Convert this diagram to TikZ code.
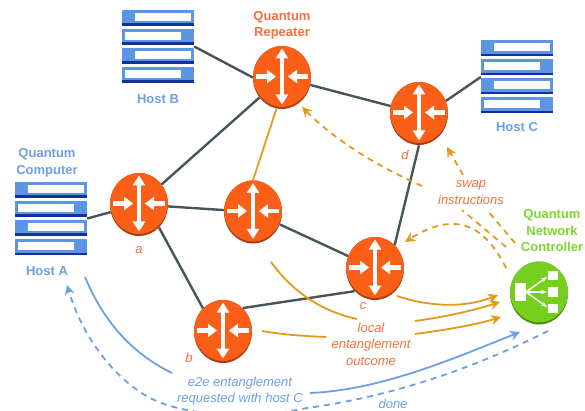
\documentclass[tikz,border=0pt]{standalone}
\usepackage{fontspec}
\setsansfont{Liberation Sans}
\usetikzlibrary{positioning, arrows.meta, shapes.geometric}

\definecolor{routerfill}{HTML}{FB5F17}
\definecolor{routerdark}{HTML}{A83A0E}
\definecolor{ctrlfill}{HTML}{74CF1E}
\definecolor{ctrldark}{HTML}{4A8C12}
\definecolor{hostblue}{HTML}{5B95E3}
\definecolor{hostnavy}{HTML}{12309A}
\definecolor{linkgrey}{HTML}{46555A}
\definecolor{msgorange}{HTML}{E39A1C}
\definecolor{textorange}{HTML}{F4703C}
\definecolor{textblue}{HTML}{6C9FE6}
\definecolor{textgreen}{HTML}{7FD62E}

\newcommand{\hostbar}[2]{%
    \fill[hostblue] (-36,#1) rectangle (36,#1+16);
    \fill[hostnavy] (-36,#1+13.5) rectangle (36,#1+16);
    \fill[white] (#2,#1+3) rectangle (#2+56,#1+11);
}

\tikzset{
    routerbase/.style={ellipse, inner sep=0pt, minimum width=58pt, minimum height=63pt},
    router/.style={routerbase, fill=routerdark, path picture={
        \begin{scope}[shift={(path picture bounding box.center)}]
            \fill[routerfill] (0,-2) ellipse (29 and 31.5);
            \draw[white, line width=3.5pt, {Triangle[width=12pt,length=10pt]}-{Triangle[width=12pt,length=10pt]}] (0,-29) -- (0,27);
            \draw[white, line width=4.5pt, -{Triangle[width=13pt,length=9pt]}] (-26,-1) -- (-6,-1);
            \draw[white, line width=4.5pt, -{Triangle[width=13pt,length=9pt]}] (26,-1) -- (6,-1);
        \end{scope}}},
    controller/.style={routerbase, fill=ctrldark, path picture={
        \begin{scope}[shift={(path picture bounding box.center)}]
            \fill[ctrlfill] (0,-2) ellipse (29 and 31.5);
            \fill[white] (-24,-10) rectangle (-13,8);
            \fill[white] (9,-22) rectangle (19,-13);
            \fill[white] (9,-6) rectangle (19,4);
            \fill[white] (9,11) rectangle (19,20);
            \draw[white, line width=1.5pt, -{Stealth[length=6pt]}] (-13,-1) -- (8,-16);
            \draw[white, line width=1.5pt, -{Stealth[length=6pt]}] (-13,-1) -- (8,-1);
            \draw[white, line width=1.5pt, -{Stealth[length=6pt]}] (-13,-1) -- (8,14);
        \end{scope}}},
    hostrack/.style={rectangle, inner sep=0pt, minimum width=72pt, minimum height=73pt, path picture={
        \begin{scope}[shift={(path picture bounding box.center)}]
            \hostbar{-36.5}{-23}
            \hostbar{-17.5}{-33}
            \hostbar{1.5}{-23}
            \hostbar{20.5}{-33}
        \end{scope}}},
    link/.style={draw=linkgrey, line width=2.4pt},
    msg/.style={draw=msgorange, line width=1.8pt},
    msgdash/.style={msg, dash pattern=on 6pt off 5pt},
    reqline/.style={draw=textblue, line width=1.8pt},
    reqdash/.style={reqline, dash pattern=on 6pt off 5pt},
    tag/.style={font=\sffamily\itshape\fontsize{13}{16.5}\selectfont, align=center, inner sep=0pt},
    title/.style={font=\sffamily\bfseries\fontsize{13}{16.5}\selectfont, align=center, inner sep=0pt},
}

\begin{document}
\begin{tikzpicture}[>={Stealth[length=10pt,width=10pt]}, x=1pt, y=-1pt, on grid]
    \useasboundingbox (0,0) rectangle (585,411);
    \clip (0,0) rectangle (585,411);

    % Routers
    \node[router] (Ra) at (139,204.5) {};
    \node[router] (Rt) [above right=127pt and 143pt of Ra] {};
    \node[router] (Rm) [below right=7.5pt and 114pt of Ra] {};
    \node[router] (Rd) [below right=36pt and 137pt of Rt] {};
    \node[router] (Rc) [below right=56.5pt and 122pt of Rm] {};
    \node[router] (Rb) [below right=127pt and 84pt of Ra] {};
    \node[controller] (Ctrl) [below right=24.5pt and 164pt of Rc] {};

    % Hosts
    \node[hostrack] (HostA) [below left=14pt and 88pt of Ra] {};
    \node[hostrack] (HostB) [above left=31pt and 124pt of Rt] {};
    \node[hostrack] (HostC) [above right=36.5pt and 98pt of Rd] {};

    % Labels
    \node[title, text=textorange] (RepTitle) [above=52pt of Rt] {Quantum\\Repeater};
    \node[title, text=textblue] (CompTitle) [above=55.5pt of HostA, xshift=-4pt] {Quantum\\Computer};
    \node[title, text=textblue] (NameA) [below=53pt of HostA, xshift=-4pt] {Host A};
    \node[title, text=textblue] (NameB) [below=53pt of HostB] {Host B};
    \node[title, text=textblue] (NameC) [below=50pt of HostC] {Host C};
    \node[title, text=textgreen] (CtrlTitle) [above=62pt of Ctrl, xshift=13pt] {Quantum\\Network\\Controller};
    \node[tag, text=textorange] (La) [below=46pt of Ra] {a};
    \node[tag, text=textorange] (Lb) [below left=26.5pt and 34pt of Rb] {b};
    \node[tag, text=textorange] (Lc) [below left=37.5pt and 12pt of Rc] {c};
    \node[tag, text=textorange] (Ld) [below left=41.5pt and 14pt of Rd] {d};
    \node[tag, text=textorange] (Swap) at (471,192.5) {swap\\instructions};
    \node[tag, text=textorange] (Local) at (371,344) {local\\entanglement\\outcome};
    \node[tag, text=textblue] (Req) at (240,391) {e2e entanglement\\requested with host C};
    \node[tag, text=textblue] (Done) at (393,404) {done};

    % Free ends
    \coordinate (mOut) at (271,262);
    \coordinate (mIn) at (357,319);
    \coordinate (bOut) at (262,331);
    \coordinate (bIn) at (326,337);
    \coordinate (lOutA) at (415,321);
    \coordinate (lOutB) at (415,334);
    \coordinate (cOut) at (397,296);
    \coordinate (tipA) at (498,295);
    \coordinate (tipB) at (500,302);
    \coordinate (tipC) at (501,317);
    \coordinate (swapA) at (515,243);
    \coordinate (swapAe) at (487,210);
    \coordinate (swapB) at (506,247);
    \coordinate (swapBe) at (462,210);
    \coordinate (swapC) at (506,268);
    \coordinate (tipCd) at (405,242);
    \coordinate (upS) at (463,175);
    \coordinate (tipD) at (447,147);
    \coordinate (upT) at (422,186);
    \coordinate (tipT) at (302,107);
    \coordinate (reqA) at (85,277);
    \coordinate (reqAe) at (172,373);
    \coordinate (reqB) at (310,393);
    \coordinate (tipReq) at (520,332);
    \coordinate (doneS) at (548,331);
    \coordinate (doneM) at (307,408);
    \coordinate (doneL) at (167,405);
    \coordinate (tipDone) at (67,285);

    % Links
    \path[link]
        (HostA.east) edge (Ra.195)
        (HostB.east) edge (Rt.west)
        (HostC.west) edge (Rd.25)
        (Ra) edge (Rt)
             edge (Rm)
        (Ra.-49) edge (Rb.131)
        (Rt) edge (Rd)
        (Rm) edge (Rc)
        (Rb.50) edge (Rc.228)
        (Rd.south) edge (Rc.50);
    \path[msg] (Rt.-100) edge (Rm.north);

    % Entanglement outcome
    \draw[msg] (mOut) .. controls (295,295) and (325,312) .. (mIn);
    \draw[msg] (bOut) .. controls (285,335) and (305,336) .. (bIn);
    \draw[msg, ->] (cOut) .. controls (430,307) and (465,308) .. (tipA);
    \draw[msg, ->] (lOutA) .. controls (445,317) and (475,310) .. (tipB);
    \draw[msg, ->] (lOutB) .. controls (445,330) and (475,325) .. (tipC);

    % Swap instructions
    \draw[msgdash] (swapA) -- (swapAe);
    \draw[msgdash] (swapB) -- (swapBe);
    \draw[msgdash, ->] (swapC) .. controls (485,225) and (455,210) .. (tipCd);
    \draw[msgdash, ->] (upS) -- (tipD);
    \draw[msgdash, ->] (upT) .. controls (375,165) and (335,140) .. (tipT);

    % End to end request
    \draw[reqline] (reqA) .. controls (105,325) and (135,355) .. (reqAe);
    \draw[reqline, ->] (reqB) .. controls (380,390) and (450,360) .. (tipReq);
    \draw[reqdash, ->] (doneS) .. controls (460,375) and (380,398) .. (doneM)
        .. controls (260,418) and (205,417) .. (doneL)
        .. controls (125,392) and (85,345) .. (tipDone);
\end{tikzpicture}
\end{document}
